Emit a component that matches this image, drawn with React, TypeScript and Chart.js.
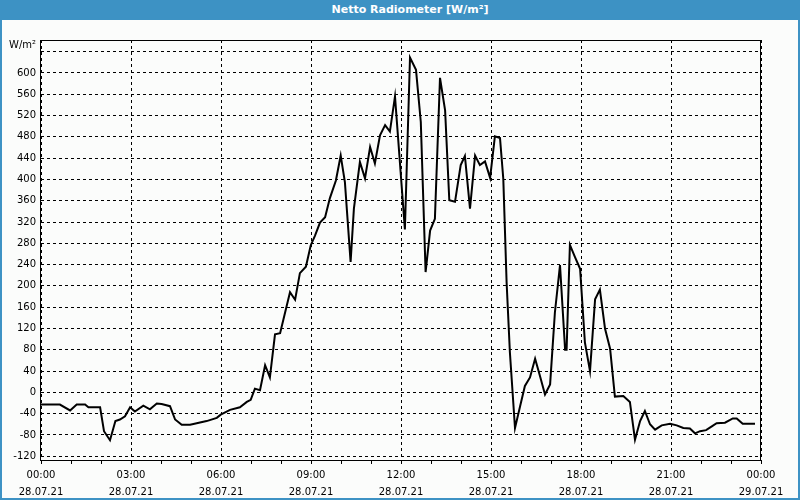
import React, { useEffect, useRef } from "react";
import { Chart, registerables } from "chart.js";

Chart.register(...registerables);

// Time of day in hours (28.07.21 00:00 = 0)
const hours: number[] = [
  0, 0.63, 0.97, 1.19, 1.47, 1.58, 1.97, 2.1, 2.3, 2.48, 2.63, 2.8, 2.97, 3.13, 3.41, 3.63, 3.86, 4.02, 4.3, 4.47,
  4.69, 4.97, 5.19, 5.52, 5.86, 5.99, 6.3, 6.63, 6.86, 6.99, 7.13, 7.3, 7.47, 7.63, 7.8, 7.97, 8.3, 8.47, 8.63, 8.83,
  8.99, 9.13, 9.3, 9.47, 9.63, 9.83, 9.99, 10.13, 10.32, 10.43, 10.63, 10.8, 10.97, 11.13, 11.3, 11.47, 11.63, 11.8,
  12.13, 12.3, 12.5, 12.66, 12.82, 12.97, 13.13, 13.3, 13.47, 13.61, 13.8, 13.99, 14.13, 14.3, 14.47, 14.63, 14.8,
  14.97, 15.13, 15.3, 15.41, 15.52, 15.63, 15.8, 15.97, 16.13, 16.3, 16.47, 16.63, 16.8, 16.97, 17.13, 17.3, 17.47,
  17.52, 17.63, 17.8, 17.97, 18.13, 18.3, 18.47, 18.63, 18.8, 18.97, 19.13, 19.41, 19.63, 19.8, 19.97, 20.13, 20.3,
  20.47, 20.69, 20.97, 21.19, 21.41, 21.63, 21.8, 21.97, 22.17, 22.36, 22.52, 22.8, 23.06, 23.19, 23.39, 23.8,
];

// Net radiation values in W/m²
const radiation: number[] = [
  -23, -23, -34, -23, -23, -28, -28, -73, -90, -54, -51, -45, -28, -36, -25, -32, -21, -22, -26, -51,
  -61, -61, -58, -54, -48, -42, -33, -28, -18, -14, 7, 4, 51, 28, 109, 111, 188, 174, 224, 236,
  276, 294, 319, 329, 365, 398, 445, 395, 245, 345, 433, 402, 461, 430, 483, 502, 490, 556,
  306, 629, 606, 508, 226, 304, 326, 591, 530, 361, 358, 427, 444, 345, 445, 427, 434,
  403, 481, 478, 401, 207, 75, -67, -26, 12, 28, 63, 31, -4, 15, 150, 239, 80,
  80, 277, 254, 232, 94, 40, 175, 193, 120, 82, -8, -7, -18, -89, -54, -35, -60,
  -70, -62, -59, -62, -67, -68, -77, -73, -71, -64, -58, -57, -49, -49, -59, -59,
];

const yTickValues: number[] = [-120, -80, -40, 0, 40, 80, 120, 160, 200, 240, 280, 320, 360, 400, 440, 480, 520, 560, 600, 640];
const xTickHours: number[] = [0, 1, 2, 3, 4, 5, 6, 7, 8, 9, 10, 11, 12, 13, 14, 15, 16, 17, 18, 19, 20, 21, 22, 23, 24];
const xTimeLabels: string[] = ["00:00", "03:00", "06:00", "09:00", "12:00", "15:00", "18:00", "21:00", "00:00"];
const xDateLabels: string[] = ["28.07.21", "28.07.21", "28.07.21", "28.07.21", "28.07.21", "28.07.21", "28.07.21", "28.07.21", "29.07.21"];

const title = "Netto Radiometer [W/m²]";
const unitLabel = "W/m²";
const FONT = "'DejaVu Sans', Verdana, sans-serif";

const framePlugin = {
  id: "frame",
  afterDraw(chart: any) {
    const { ctx, chartArea } = chart;
    const { left, top, right, bottom } = chartArea;
    ctx.save();
    ctx.strokeStyle = "#000";
    ctx.lineWidth = 1;
    ctx.setLineDash([]);
    ctx.strokeRect(Math.round(left) - 0.5, Math.round(top) + 0.5, Math.round(right) - Math.round(left), Math.round(bottom) - Math.round(top) - 1);
    ctx.fillStyle = "#000";
    ctx.font = `10px ${FONT}`;
    ctx.textAlign = "right";
    ctx.textBaseline = "middle";
    ctx.fillText(unitLabel, left - 5, top + 5);
    ctx.restore();
  },
};

export default function App() {
  const ref = useRef<HTMLCanvasElement | null>(null);

  useEffect(() => {
    if (!ref.current) return;
    const data = hours.map((h, i) => ({ x: h, y: radiation[i] }));
    const chart = new Chart(ref.current, {
      type: "line",
      data: {
        datasets: [
          {
            data,
            borderColor: "#000",
            borderWidth: 2,
            pointRadius: 0,
            tension: 0,
            fill: false,
          },
        ],
      },
      options: {
        animation: false,
        responsive: false,
        devicePixelRatio: 1,
        layout: { padding: { left: 0, top: 40, right: 39, bottom: 0 } },
        plugins: {
          legend: { display: false },
          title: { display: false },
          tooltip: { enabled: false },
        },
        scales: {
          x: {
            type: "linear",
            min: 0,
            max: 24,
            afterBuildTicks: (scale: any) => {
              scale.ticks = xTickHours.map((v) => ({ value: v }));
            },
            afterFit: (scale: any) => {
              scale.height = 39;
            },
            grid: {
              color: (ctx: any) => (ctx.tick && ctx.tick.value % 3 === 0 ? "#000" : "rgba(0,0,0,0)"),
              tickColor: "#000",
              tickLength: 3,
              lineWidth: 1,
            },
            border: { display: false, dash: [3, 3] },
            ticks: {
              autoSkip: false,
              maxRotation: 0,
              minRotation: 0,
              padding: 3,
              color: "#000",
              font: { family: FONT, size: 10, lineHeight: 1.7 },
              callback: (v: any) => {
                const n = Number(v);
                if (n % 3 !== 0) return "";
                const i = n / 3;
                return [xTimeLabels[i], xDateLabels[i]];
              },
            },
          },
          y: {
            type: "linear",
            min: -129,
            max: 662,
            afterBuildTicks: (scale: any) => {
              scale.ticks = yTickValues.map((v) => ({ value: v }));
            },
            afterFit: (scale: any) => {
              scale.width = 41;
            },
            grid: {
              color: "#000",
              lineWidth: 1,
              drawTicks: false,
            },
            border: { display: false, dash: [3, 3] },
            ticks: {
              autoSkip: false,
              padding: 5,
              color: "#000",
              font: { family: FONT, size: 10 },
              callback: (v: any) => (Number(v) === 640 ? "" : String(v)),
            },
          },
        },
      },
      plugins: [framePlugin],
    } as any);
    return () => chart.destroy();
  }, []);

  return (
    <div style={{ position: "fixed", left: 0, top: 0, width: 800, height: 500, background: "#3d92c4", overflow: "hidden" }}>
      <div
        style={{
          position: "absolute",
          left: 0,
          top: 0,
          width: 820,
          height: 20,
          lineHeight: "20px",
          textAlign: "center",
          color: "#fff",
          fontFamily: FONT,
          fontWeight: "bold",
          fontSize: 11,
        }}
      >
        {title}
      </div>
      <div style={{ position: "absolute", left: 2, top: 20, width: 796, height: 478, background: "#fbfcfb" }} />
      <canvas ref={ref} width={800} height={500} style={{ position: "absolute", left: 0, top: 0, width: 800, height: 500 }} />
    </div>
  );
}
